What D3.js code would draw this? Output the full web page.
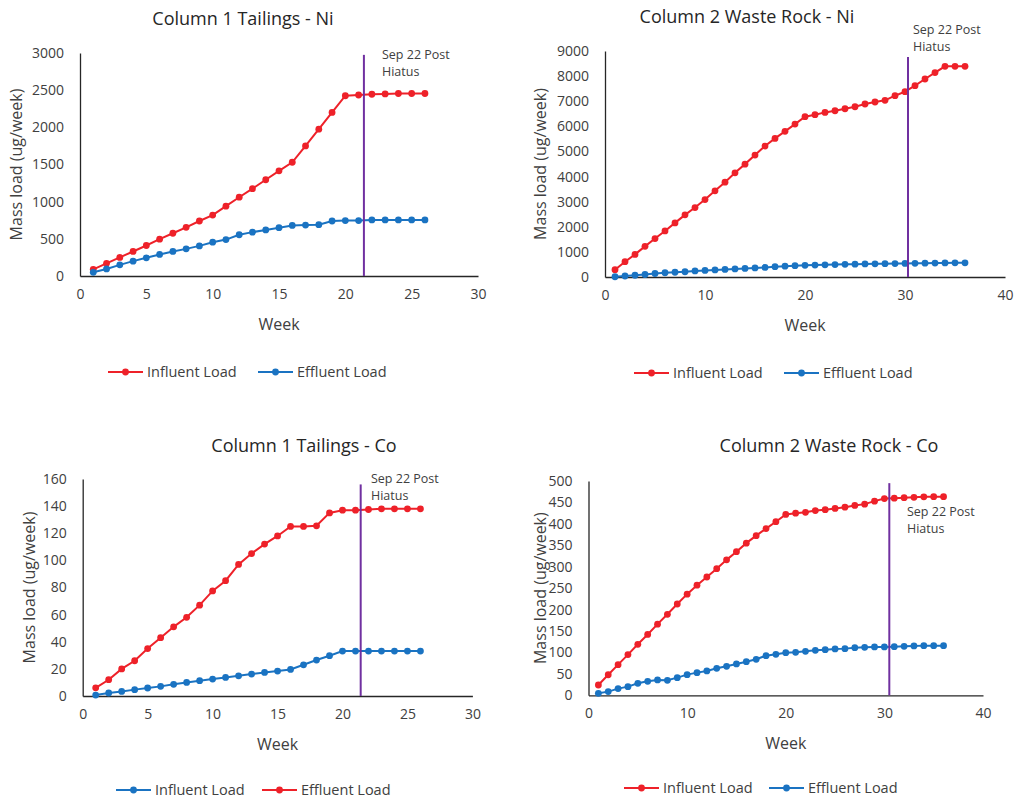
<!DOCTYPE html>
<html>
<head>
<meta charset="utf-8">
<script src="https://cdn.jsdelivr.net/npm/d3@7"></script>
<style>
  body { margin: 0; background: #fff; }
  svg { display: block; font-family: "Open Sans", sans-serif; }
</style>
</head>
<body>
<script>
// Weeks (1..n)
const weeks26 = d3.range(1, 27);
const weeks36 = d3.range(1, 37);

// Column 1 Tailings - Ni (ug/week)
const ni1Influent = [90, 170, 250, 330, 410, 495, 575, 655, 740, 820, 940, 1060, 1175, 1295, 1415, 1530, 1750, 1975, 2200, 2425, 2435, 2445, 2450, 2455, 2455, 2455];
const ni1Effluent = [50, 95, 150, 200, 245, 290, 330, 365, 405, 455, 490, 555, 590, 620, 650, 680, 685, 690, 740, 745, 745, 755, 755, 755, 755, 755];

// Column 2 Waste Rock - Ni (ug/week)
const ni2Influent = [290, 610, 900, 1220, 1530, 1835, 2155, 2475, 2765, 3085, 3430, 3775, 4150, 4495, 4855, 5215, 5520, 5800, 6090, 6385, 6465, 6555, 6620, 6700, 6780, 6890, 6970, 7035, 7220, 7380, 7620, 7885, 8140, 8390, 8390, 8390];
const ni2Effluent = [10, 40, 70, 100, 140, 170, 190, 210, 240, 260, 280, 300, 320, 340, 360, 380, 410, 430, 450, 465, 475, 485, 495, 505, 510, 520, 525, 530, 535, 540, 545, 550, 555, 560, 565, 565];

// Column 1 Tailings - Co (ug/week); the legend here has its colours swapped
const co1Red = [6, 12, 20, 26, 35, 43, 51, 58, 67, 77.5, 85, 97, 105, 112, 118, 125, 125, 125.5, 135, 137, 137, 137.5, 138, 138, 138, 138];
const co1Blue = [0.7, 2.2, 3.4, 4.7, 5.9, 7.1, 8.6, 10, 11.3, 12.5, 13.7, 14.9, 16.2, 17.4, 18.4, 19.6, 23, 26.5, 29.7, 33.1, 33.1, 33.1, 33.1, 33.1, 33.1, 33.1];

// Column 2 Waste Rock - Co (ug/week)
const co2Influent = [24, 48, 71.5, 95, 119, 142, 166, 189, 213, 236, 257, 276, 295.5, 316, 335, 355, 372.5, 389, 405, 422, 425, 427, 431, 433, 436, 439, 443, 446, 453, 459, 460, 461, 462, 463, 463.5, 463.5];
const co2Effluent = [4.7, 8.6, 15.6, 20.2, 28, 32.7, 35.8, 35, 41.2, 48.2, 52.9, 56.8, 63, 67.7, 73.1, 78.5, 84, 92.5, 95.6, 99.5, 100.3, 102.6, 105, 106.5, 108.1, 108.9, 111.2, 112, 112.8, 112.8, 113.5, 114.3, 115.1, 115.9, 115.9, 115.9];

// Axis ticks
const xTicks30 = [0, 5, 10, 15, 20, 25, 30];
const xTicks40 = [0, 10, 20, 30, 40];
const yTicksNi1 = [0, 500, 1000, 1500, 2000, 2500, 3000];
const yTicksNi2 = d3.range(0, 9001, 1000);
const yTicksCo1 = d3.range(0, 161, 20);
const yTicksCo2 = d3.range(0, 501, 50);

// Hiatus marker: [week, top value]
const hiatusNi1 = [21.4, 2975];
const hiatusNi2 = [30.3, 8760];
const hiatusCo1 = [21.4, 156];
const hiatusCo2 = [30.5, 495];

const red = "#ee2129";
const blue = "#1a73c2";
const purple = "#7030a0";
const textColor = "#404040";

const width = 1020;
const height = 800;

const svg = d3.select("body").append("svg")
    .attr("width", width)
    .attr("height", height)
    .attr("viewBox", [0, 0, width, height]);

function drawPanel(p) {
  const x = d3.scaleLinear().domain(p.xDomain).range(p.xRange);
  const y = d3.scaleLinear().domain(p.yDomain).range(p.yRange);
  const g = svg.append("g");

  // Title
  g.append("text")
      .attr("x", p.titlePos[0]).attr("y", p.titlePos[1])
      .attr("text-anchor", "middle")
      .attr("font-size", 18)
      .attr("fill", "#262626")
      .text(p.title);

  // Axes (lines only, no tick marks)
  const xAxis = g.append("g")
      .attr("transform", `translate(0,${p.yRange[0]})`)
      .call(d3.axisBottom(x).tickValues(p.xTicks).tickFormat(d3.format("d")).tickSize(0).tickPadding(13));
  const yAxis = g.append("g")
      .attr("transform", `translate(${p.xRange[0]},0)`)
      .call(d3.axisLeft(y).tickValues(p.yTicks).tickFormat(d3.format("d")).tickSize(0).tickPadding(16));
  [xAxis, yAxis].forEach(a => {
    a.select(".domain").attr("stroke", "#262626").attr("stroke-width", 1.3);
    a.selectAll("text")
        .attr("font-family", "Open Sans, sans-serif")
        .attr("font-size", 14)
        .attr("fill", textColor);
  });

  // Axis titles
  g.append("text")
      .attr("x", (p.xRange[0] + p.xRange[1]) / 2)
      .attr("y", p.yRange[0] + 54)
      .attr("text-anchor", "middle")
      .attr("font-size", 16)
      .attr("fill", textColor)
      .text("Week");
  g.append("text")
      .attr("transform", `translate(${p.yLabelX},${(p.yRange[0] + p.yRange[1]) / 2}) rotate(-90)`)
      .attr("text-anchor", "middle")
      .attr("font-size", 16)
      .attr("fill", textColor)
      .text("Mass load (ug/week)");

  // Series
  const line = d3.line().x(d => x(d[0])).y(d => y(d[1]));
  p.series.forEach(s => {
    const pts = p.weeks.map((w, i) => [w, s.values[i]]);
    g.append("path")
        .datum(pts)
        .attr("fill", "none")
        .attr("stroke", s.color)
        .attr("stroke-width", 2)
        .attr("d", line);
    g.append("g")
        .selectAll("circle")
        .data(pts)
        .join("circle")
        .attr("cx", d => x(d[0]))
        .attr("cy", d => y(d[1]))
        .attr("r", 3.4)
        .attr("fill", s.color);
  });

  // Hiatus line and note
  g.append("line")
      .attr("x1", x(p.hiatus[0])).attr("x2", x(p.hiatus[0]))
      .attr("y1", y(0)).attr("y2", y(p.hiatus[1]))
      .attr("stroke", purple)
      .attr("stroke-width", 2);
  const note = g.append("text")
      .attr("font-size", 12.5)
      .attr("fill", textColor);
  ["Sep 22 Post", "Hiatus"].forEach((t, i) => {
    note.append("tspan")
        .attr("x", p.notePos[0])
        .attr("y", p.notePos[1] + i * 17.4)
        .text(t);
  });

  // Legend
  p.legend.forEach((item, i) => {
    const lx = p.legendX[i];
    const ly = p.legendY;
    g.append("line")
        .attr("x1", lx).attr("x2", lx + 35)
        .attr("y1", ly - 5).attr("y2", ly - 5)
        .attr("stroke", item.color)
        .attr("stroke-width", 2);
    g.append("circle")
        .attr("cx", lx + 17.5).attr("cy", ly - 5)
        .attr("r", 3.4)
        .attr("fill", item.color);
    g.append("text")
        .attr("x", lx + 39).attr("y", ly)
        .attr("font-size", 14.5)
        .attr("fill", textColor)
        .text(item.label);
  });
}

drawPanel({
  title: "Column 1 Tailings - Ni", titlePos: [243, 25],
  weeks: weeks26,
  xDomain: [0, 30], xRange: [80, 478], xTicks: xTicks30,
  yDomain: [0, 3000], yRange: [276, 53], yTicks: yTicksNi1,
  yLabelX: 22,
  series: [{values: ni1Influent, color: red}, {values: ni1Effluent, color: blue}],
  hiatus: hiatusNi1, notePos: [382, 59],
  legend: [{label: "Influent Load", color: red}, {label: "Effluent Load", color: blue}],
  legendX: [108, 258], legendY: 377
});

drawPanel({
  title: "Column 2 Waste Rock - Ni", titlePos: [747, 23],
  weeks: weeks36,
  xDomain: [0, 40], xRange: [605, 1005], xTicks: xTicks40,
  yDomain: [0, 9000], yRange: [277, 51], yTicks: yTicksNi2,
  yLabelX: 546,
  series: [{values: ni2Influent, color: red}, {values: ni2Effluent, color: blue}],
  hiatus: hiatusNi2, notePos: [913, 34],
  legend: [{label: "Influent Load", color: red}, {label: "Effluent Load", color: blue}],
  legendX: [634, 784], legendY: 378
});

drawPanel({
  title: "Column 1 Tailings - Co", titlePos: [304, 452],
  weeks: weeks26,
  xDomain: [0, 30], xRange: [82.7, 472.4], xTicks: xTicks30,
  yDomain: [0, 160], yRange: [696, 479], yTicks: yTicksCo1,
  yLabelX: 35,
  series: [{values: co1Red, color: red}, {values: co1Blue, color: blue}],
  hiatus: hiatusCo1, notePos: [371, 483],
  legend: [{label: "Influent Load", color: blue}, {label: "Effluent Load", color: red}],
  legendX: [116, 262], legendY: 795
});

drawPanel({
  title: "Column 2 Waste Rock - Co", titlePos: [829, 452],
  weeks: weeks36,
  xDomain: [0, 40], xRange: [588.5, 983], xTicks: xTicks40,
  yDomain: [0, 500], yRange: [695.3, 481], yTicks: yTicksCo2,
  yLabelX: 546,
  series: [{values: co2Influent, color: red}, {values: co2Effluent, color: blue}],
  hiatus: hiatusCo2, notePos: [907, 516],
  legend: [{label: "Influent Load", color: red}, {label: "Effluent Load", color: blue}],
  legendX: [624, 769], legendY: 793
});
</script>
</body>
</html>
